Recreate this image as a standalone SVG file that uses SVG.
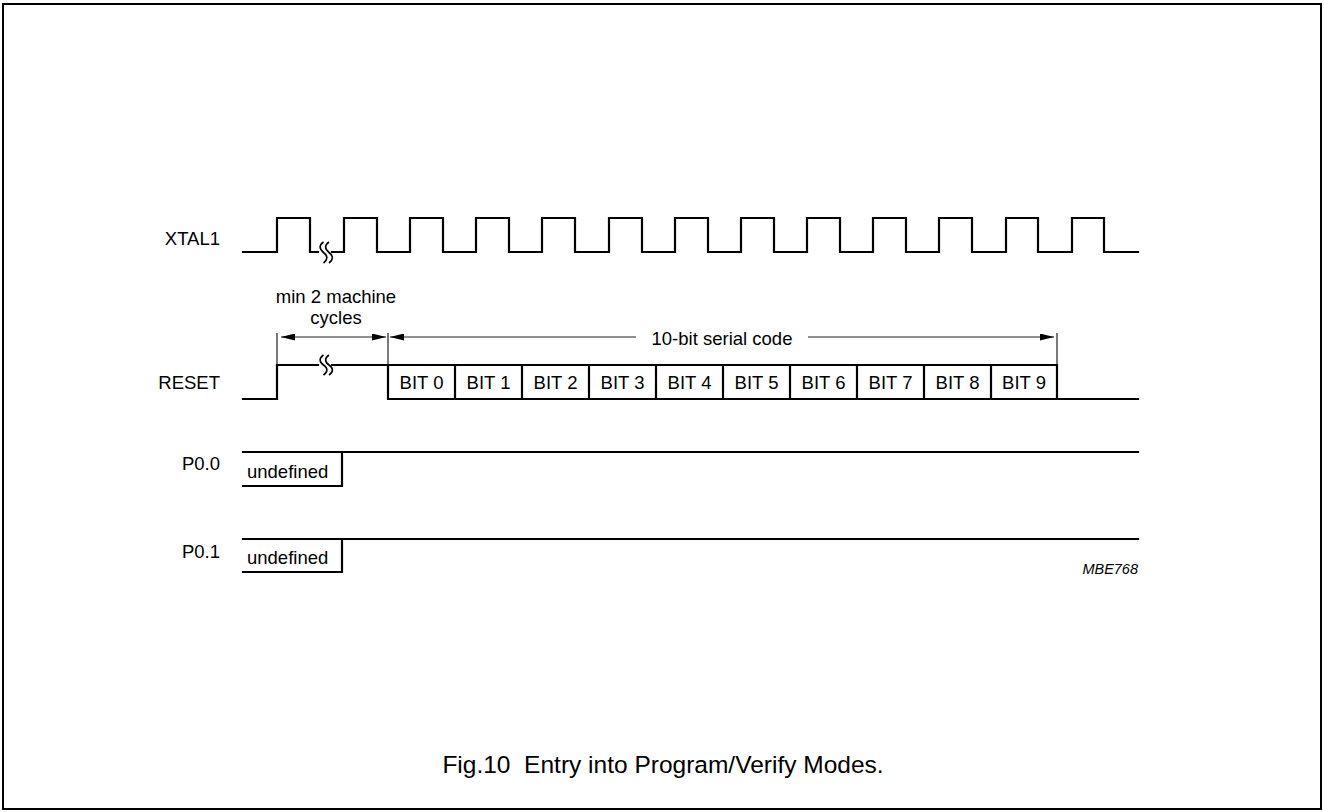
<svg xmlns="http://www.w3.org/2000/svg" width="1324" height="812" viewBox="0 0 1324 812">
<style>
  .wave { fill: none; stroke: #000; stroke-width: 2.2; stroke-linejoin: miter; stroke-linecap: square; }
  .thin { fill: none; stroke: #222; stroke-width: 1.2; }
  .sq { fill: none; stroke: #000; stroke-width: 1.6; }
  .lbl { font-family: "Liberation Sans", Arial, sans-serif; font-size: 18.5px; fill: #000; }
  .end { text-anchor: end; }
  .mid { text-anchor: middle; }
</style>
<defs>
  <marker id="ah" viewBox="0 0 14 7" refX="14" refY="3.5" markerWidth="14" markerHeight="7" markerUnits="userSpaceOnUse" orient="auto-start-reverse">
    <path d="M0,0 L14,3.5 L0,7 z" fill="#000"/>
  </marker>
</defs>
<rect x="3" y="4" width="1318" height="805" fill="#fff" stroke="#000" stroke-width="2"/>

<g id="xtal1">
  <text class="lbl end" x="220" y="245">XTAL1</text>
  <path class="wave" d="M243,252 H277 V218 H310 V252 H318"/>
  <path class="wave" d="M332,252 H344 V218 H377 V252 H410 V218 H443 V252 H476 V218 H509 V252 H542 V218 H575 V252 H609 V218 H642 V252 H675 V218 H708 V252 H741 V218 H774 V252 H807 V218 H840 V252 H873 V218 H906 V252 H939 V218 H972 V252 H1006 V218 H1038 V252 H1072 V218 H1104 V252 H1138"/>
  <path class="sq" d="M323.5,242 c-4.5,3 -4.5,7 0,10.5 c4.5,3.5 4.5,7 0,10.5 M329,242 c-4.5,3 -4.5,7 0,10.5 c4.5,3.5 4.5,7 0,10.5"/>
</g>

<g id="reset">
  <text class="lbl end" x="220" y="389">RESET</text>
  <path class="wave" d="M243,399 H277 V365 H318"/>
  <path class="wave" d="M332,365 H388 V399 H1138"/>
  <path class="sq" d="M323.5,355 c-4.5,3 -4.5,7 0,10 c4.5,3 4.5,7 0,10 M329,355 c-4.5,3 -4.5,7 0,10 c4.5,3 4.5,7 0,10"/>
  <path class="wave" d="M388,365 H1057 V399 M455,365 V399 M522,365 V399 M589,365 V399 M656,365 V399 M723,365 V399 M790,365 V399 M857,365 V399 M924,365 V399 M991,365 V399"/>
  <g class="lbl mid">
    <text x="421.5" y="389">BIT 0</text>
    <text x="488.5" y="389">BIT 1</text>
    <text x="555.5" y="389">BIT 2</text>
    <text x="622.5" y="389">BIT 3</text>
    <text x="689.5" y="389">BIT 4</text>
    <text x="756.5" y="389">BIT 5</text>
    <text x="823.5" y="389">BIT 6</text>
    <text x="890.5" y="389">BIT 7</text>
    <text x="957.5" y="389">BIT 8</text>
    <text x="1024" y="389">BIT 9</text>
  </g>
</g>

<g id="p00">
  <text class="lbl end" x="220" y="470">P0.0</text>
  <path class="wave" d="M243,452 H1138 M243,486 H342 V452"/>
  <text class="lbl" x="247" y="478">undefined</text>
</g>

<g id="p01">
  <text class="lbl end" x="220" y="558">P0.1</text>
  <path class="wave" d="M243,539 H1138 M243,572 H342 V539"/>
  <text class="lbl" x="247" y="564">undefined</text>
</g>

<g id="connectors">
  <line class="thin" x1="277" y1="333" x2="277" y2="364"/>
  <line class="thin" x1="388" y1="333" x2="388" y2="365"/>
  <line class="thin" x1="1057" y1="333" x2="1057" y2="365"/>
  <line class="thin" x1="281" y1="337" x2="386" y2="337" marker-start="url(#ah)" marker-end="url(#ah)"/>
  <line class="thin" x1="390" y1="337" x2="636" y2="337" marker-start="url(#ah)"/>
  <line class="thin" x1="808" y1="337" x2="1054" y2="337" marker-end="url(#ah)"/>
  <text class="lbl mid" x="336" y="303">min 2 machine</text>
  <text class="lbl mid" x="336" y="324">cycles</text>
  <text class="lbl mid" x="722" y="345">10-bit serial code</text>
</g>

<text x="1138" y="574" text-anchor="end" font-family="Liberation Sans, Arial, sans-serif" font-size="14.5" font-style="italic">MBE768</text>
<text x="663" y="773" text-anchor="middle" font-family="Liberation Sans, Arial, sans-serif" font-size="24.5" xml:space="preserve">Fig.10  Entry into Program/Verify Modes.</text>
</svg>
